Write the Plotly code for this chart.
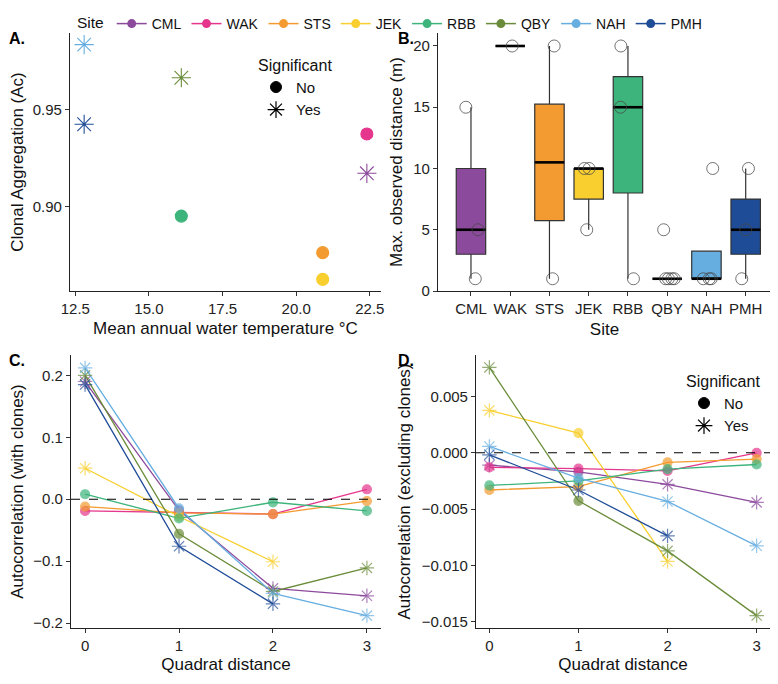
import numpy as np
import plotly.graph_objects as go

# ---------------- data ----------------
sites = ["CML", "WAK", "STS", "JEK", "RBB", "QBY", "NAH", "PMH"]
site_colors = ["#8C4A9C", "#E5358C", "#F39B30", "#F8CF2E", "#3DB47B", "#6A8C3A", "#67AEE0", "#1F4C97"]

# Panel A
temperature = [22.4, 22.4, 20.9, 20.9, 16.1, 16.1, 12.8, 12.8]
clonal_agg = [0.9171, 0.9373, 0.8763, 0.8626, 0.8951, 0.9662, 0.9832, 0.9423]
sig_a = ["Yes", "No", "No", "No", "No", "Yes", "Yes", "Yes"]

# Panel B (max observed distance per site, with jitter offsets)
max_dist = {
    "CML": [15, 5, 1],
    "WAK": [20],
    "STS": [20, 1],
    "JEK": [10, 10, 5],
    "RBB": [20, 15, 1],
    "QBY": [5, 1, 1, 1, 1],
    "NAH": [10, 1, 1, 1],
    "PMH": [10, 5, 1],
}
jitter_x = {
    "CML": [-0.13, 0.18, 0.11],
    "WAK": [0.05],
    "STS": [0.12, 0.08],
    "JEK": [-0.11, 0.01, -0.05],
    "RBB": [-0.18, -0.19, 0.14],
    "QBY": [-0.09, -0.04, 0.03, 0.12, 0.18],
    "NAH": [0.16, -0.08, 0.07, 0.12],
    "PMH": [0.07, 0.0, -0.1],
}

# Panel C / D
quadrat = [0, 1, 2, 3]
auto_with = {
    "CML": [0.190, -0.018, -0.144, -0.156],
    "WAK": [-0.019, -0.022, -0.024, 0.016],
    "STS": [-0.012, -0.022, -0.024, -0.003],
    "JEK": [0.050, -0.028, -0.101, None],
    "RBB": [0.008, -0.031, -0.005, -0.019],
    "QBY": [0.200, -0.056, -0.149, -0.111],
    "NAH": [0.212, -0.015, -0.152, -0.188],
    "PMH": [0.185, -0.076, -0.169, None],
}
sig_with = {
    "CML": ["Yes", "No", "Yes", "Yes"],
    "WAK": ["No", "No", "No", "No"],
    "STS": ["No", "No", "No", "No"],
    "JEK": ["Yes", "No", "Yes", None],
    "RBB": ["No", "No", "No", "No"],
    "QBY": ["Yes", "No", "Yes", "Yes"],
    "NAH": ["Yes", "No", "Yes", "Yes"],
    "PMH": ["Yes", "Yes", "Yes", None],
}
auto_excl = {
    "CML": [-0.0011, -0.0017, -0.0028, -0.0044],
    "WAK": [-0.0013, -0.0014, -0.0016, 0.0000],
    "STS": [-0.0033, -0.0030, -0.00086, -0.00056],
    "JEK": [0.00376, 0.00175, -0.00964, None],
    "RBB": [-0.0029, -0.0025, -0.00145, -0.00104],
    "QBY": [0.00757, -0.00426, -0.0087, -0.01444],
    "NAH": [0.00056, -0.00225, -0.00432, -0.00825],
    "PMH": [-0.00018, -0.0033, -0.00737, None],
}
sig_excl = {
    "CML": ["Yes", "No", "Yes", "Yes"],
    "WAK": ["No", "No", "No", "No"],
    "STS": ["No", "No", "No", "No"],
    "JEK": ["Yes", "No", "Yes", None],
    "RBB": ["No", "No", "No", "No"],
    "QBY": ["Yes", "No", "Yes", "Yes"],
    "NAH": ["Yes", "No", "Yes", "Yes"],
    "PMH": ["Yes", "Yes", "Yes", None],
}

# ---------------- figure ----------------
FONT = "Liberation Sans, Arial, Helvetica, sans-serif"
OFF = 8                      # page body margin of the html page
W, H = 778 - OFF, 684 - OFF  # figure size
sym_map = {"No": "circle", "Yes": "asterisk-open"}
fig = go.Figure()

# Site legend (dummy traces)
for s, c in zip(sites, site_colors):
    fig.add_trace(go.Scatter(x=[None], y=[None], mode="lines+markers", name=s,
                             line=dict(color=c, width=1.5),
                             marker=dict(symbol="circle", size=9, color=c),
                             legend="legend", showlegend=True, xaxis="x", yaxis="y"))

# Significant legends (dummy traces)
for lg, xa, ya in [("legend2", "x", "y"), ("legend3", "x4", "y4")]:
    fig.add_trace(go.Scatter(x=[None], y=[None], mode="markers", name="No",
                             marker=dict(symbol="circle", size=11, color="black",
                                         line=dict(color="black", width=1)),
                             legend=lg, showlegend=True, xaxis=xa, yaxis=ya))
    fig.add_trace(go.Scatter(x=[None], y=[None], mode="markers", name="Yes",
                             marker=dict(symbol="asterisk-open", size=14, color="black",
                                         line=dict(color="black", width=1.2)),
                             legend=lg, showlegend=True, xaxis=xa, yaxis=ya))

# Panel A
for i, s in enumerate(sites):
    c = site_colors[i]
    fig.add_trace(go.Scatter(x=[temperature[i]], y=[clonal_agg[i]], mode="markers",
                             marker=dict(symbol=sym_map[sig_a[i]],
                                         size=12 if sig_a[i] == "No" else 16,
                                         color=c, line=dict(color=c, width=1.1)),
                             showlegend=False, xaxis="x", yaxis="y"))

# Panel B
box_w = 0.75
for i, s in enumerate(sites):
    c = site_colors[i]
    d = np.array(max_dist[s], dtype=float)
    q1, med, q3 = np.percentile(d, [25, 50, 75])
    iqr = q3 - q1
    inside = d[(d >= q1 - 1.5 * iqr) & (d <= q3 + 1.5 * iqr)]
    lo = min(q1, inside.min())
    hi = max(q3, inside.max())
    fig.add_trace(go.Box(x=[i], q1=[q1], median=[med], q3=[q3], lowerfence=[lo], upperfence=[hi],
                         width=box_w, fillcolor=c, line=dict(color="#333333", width=1.2),
                         whiskerwidth=0, boxpoints=False, showlegend=False,
                         xaxis="x2", yaxis="y2", hoverinfo="skip"))
    fig.add_trace(go.Scatter(x=[i - box_w / 2, i + box_w / 2], y=[med, med], mode="lines",
                             line=dict(color="black", width=2.6), showlegend=False,
                             xaxis="x2", yaxis="y2", hoverinfo="skip"))
for i, s in enumerate(sites):
    xs = [i + j for j in jitter_x[s]]
    fig.add_trace(go.Scatter(x=xs, y=max_dist[s], mode="markers",
                             marker=dict(symbol="circle-open", size=12, color="rgba(70,70,70,0.75)",
                                         line=dict(width=1)),
                             showlegend=False, xaxis="x2", yaxis="y2"))

# Panels C, D
for data, sig, xa, ya in [(auto_with, sig_with, "x3", "y3"), (auto_excl, sig_excl, "x4", "y4")]:
    for i, s in enumerate(sites):
        fig.add_trace(go.Scatter(x=quadrat, y=data[s], mode="lines",
                                 line=dict(color=site_colors[i], width=1.3),
                                 showlegend=False, xaxis=xa, yaxis=ya, connectgaps=False))
    for i, s in enumerate(sites):
        c = site_colors[i]
        xs = [q for q, v in zip(quadrat, data[s]) if v is not None]
        ys = [v for v in data[s] if v is not None]
        sy = [sym_map[g] for g in sig[s] if g is not None]
        sz = [9 if g == "No" else 12 for g in sig[s] if g is not None]
        fig.add_trace(go.Scatter(x=xs, y=ys, mode="markers",
                                 marker=dict(symbol=sy, size=sz, color=c,
                                             line=dict(color=c, width=1.2)),
                                 showlegend=False, xaxis=xa, yaxis=ya))

# ---------------- layout ----------------
def px_x(a, b):
    return [(a - OFF) / W, (b - OFF) / W]


def px_y(top, bottom):
    return [1 - (bottom - OFF) / H, 1 - (top - OFF) / H]


def fx(x):
    return (x - OFF) / W


def fy(y):
    return 1 - (y - OFF) / H


axis_common = dict(showline=True, linecolor="#222222", linewidth=1.1, ticks="outside",
                   ticklen=4, tickwidth=1, tickcolor="#333333", showgrid=False, zeroline=False,
                   automargin=False,
                   tickfont=dict(family=FONT, size=15, color="#222222"),
                   title_font=dict(family=FONT, size=17, color="#111111"))

tag_font = dict(family=FONT, size=16, color="black")

fig.update_layout(
    width=W, height=H,
    margin=dict(l=0, r=0, t=0, b=0, autoexpand=False),
    paper_bgcolor="white", plot_bgcolor="white",
    font=dict(family=FONT, color="#111111"),
    xaxis=dict(domain=px_x(70, 381), range=[12.32, 22.88], tickvals=[12.5, 15, 17.5, 20, 22.5],
               ticktext=["12.5", "15.0", "17.5", "20.0", "22.5"],
               title=dict(text="Mean annual water temperature °C", standoff=6), anchor="y", **axis_common),
    yaxis=dict(domain=px_y(33, 291), range=[0.8566, 0.9892], tickvals=[0.90, 0.95],
               ticktext=["0.90", "0.95"],
               title=dict(text="Clonal Aggregation (Ac)", standoff=6), anchor="x", **axis_common),
    xaxis2=dict(domain=px_x(438, 771), range=[-0.84, 7.645], tickvals=list(range(len(sites))),
                ticktext=sites, title=dict(text="Site", standoff=7), anchor="y2", **axis_common),
    yaxis2=dict(domain=px_y(33, 291), range=[0, 21.06], tickvals=[0, 5, 10, 15, 20],
                title=dict(text="Max. observed distance (m)", standoff=6), anchor="x2", **axis_common),
    xaxis3=dict(domain=px_x(71, 381), range=[-0.15, 3.15], tickvals=[0, 1, 2, 3],
                title=dict(text="Quadrat distance", standoff=5), anchor="y3", **axis_common),
    yaxis3=dict(domain=px_y(355, 628), range=[-0.208, 0.2328], tickvals=[-0.2, -0.1, 0, 0.1, 0.2],
                ticktext=["−0.2", "−0.1", "0.0", "0.1", "0.2"],
                title=dict(text="Autocorrelation (with clones)", standoff=6), anchor="x3", **axis_common),
    xaxis4=dict(domain=px_x(476, 770), range=[-0.15, 3.15], tickvals=[0, 1, 2, 3],
                title=dict(text="Quadrat distance", standoff=5), anchor="y4", **axis_common),
    yaxis4=dict(domain=px_y(355, 628), range=[-0.01554, 0.00867],
                tickvals=[-0.015, -0.010, -0.005, 0, 0.005],
                ticktext=["−0.015", "−0.010", "−0.005", "0.000", "0.005"],
                title=dict(text="Autocorrelation (excluding clones)", standoff=6), anchor="x4", **axis_common),
    legend=dict(orientation="h", x=fx(391), xanchor="center", y=1, yanchor="top",
                title=dict(text="Site", font=dict(family=FONT, size=15.5)),
                font=dict(family=FONT, size=14), itemwidth=30,
                bgcolor="rgba(0,0,0,0)", tracegroupgap=0),
    legend2=dict(x=fx(256), xanchor="left", y=fy(50), yanchor="top",
                 title=dict(text="Significant", font=dict(family=FONT, size=16)),
                 font=dict(family=FONT, size=15), bgcolor="rgba(0,0,0,0)", itemwidth=30),
    legend3=dict(x=fx(684), xanchor="left", y=fy(366), yanchor="top",
                 title=dict(text="Significant", font=dict(family=FONT, size=16)),
                 font=dict(family=FONT, size=15), bgcolor="rgba(0,0,0,0)", itemwidth=30),
    shapes=[
        dict(type="line", xref="x3 domain", yref="y3", x0=0, x1=1, y0=0, y1=0,
             line=dict(color="black", width=1.1, dash="dash")),
        dict(type="line", xref="x4 domain", yref="y4", x0=0, x1=1, y0=0, y1=0,
             line=dict(color="black", width=1.1, dash="dash")),
    ],
    annotations=[
        dict(text="<b>A.</b>", x=fx(7), y=fy(38), xref="paper", yref="paper", showarrow=False,
             xanchor="left", yanchor="middle", font=tag_font),
        dict(text="<b>B.</b>", x=fx(396), y=fy(38), xref="paper", yref="paper", showarrow=False,
             xanchor="left", yanchor="middle", font=tag_font),
        dict(text="<b>C.</b>", x=fx(7), y=fy(360), xref="paper", yref="paper", showarrow=False,
             xanchor="left", yanchor="middle", font=tag_font),
        dict(text="<b>D.</b>", x=fx(396), y=fy(360), xref="paper", yref="paper", showarrow=False,
             xanchor="left", yanchor="middle", font=tag_font),
    ],
)

fig.write_html("out.html")
